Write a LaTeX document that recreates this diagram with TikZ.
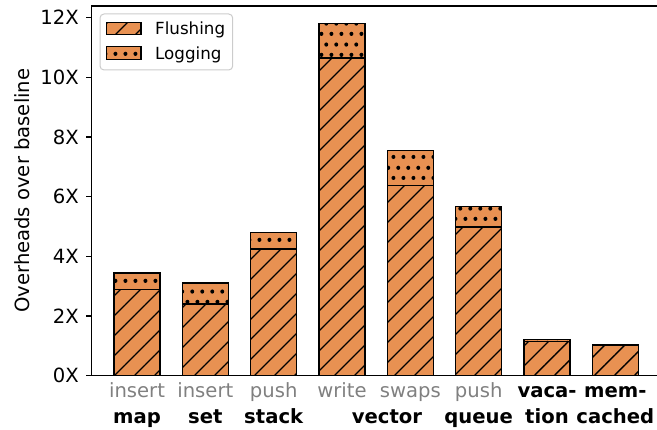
\documentclass[tikz,border=0pt]{standalone}
\usepackage{fontspec}
\setmainfont{DejaVu Sans}
\usetikzlibrary{patterns,patterns.meta}

% staggered dot hatch for the logging segments
\pgfdeclarepatternformonly{logdots}{\pgfqpoint{0pt}{0pt}}{\pgfqpoint{10.3pt}{20.6pt}}{\pgfqpoint{10.3pt}{20.6pt}}{%
  \pgfpathcircle{\pgfqpoint{2.575pt}{5.15pt}}{2.1pt}%
  \pgfpathcircle{\pgfqpoint{7.725pt}{15.45pt}}{2.1pt}%
  \pgfusepath{fill}%
}

\definecolor{barorange}{RGB}{232,145,82}
\definecolor{legendedge}{RGB}{204,204,204}

\begin{document}
\begin{tikzpicture}[x=1pt,y=1pt,
  flushbar/.style={draw=black, line width=1.4pt, preaction={fill=barorange},
    pattern={Lines[angle=45,distance=14.14pt,line width=1.3pt]}, pattern color=black},
  logbar/.style={draw=black, line width=1.4pt, preaction={fill=barorange},
    pattern=logdots, pattern color=black},
  spine/.style={line width=1.3pt, black},
  ticklab/.style={font=\fontsize{19.6}{23.5}\selectfont, inner sep=0pt, anchor=east},
  oplab/.style={font=\fontsize{19.6}{23.5}\selectfont, inner sep=0pt, anchor=base, text=gray},
  benchlab/.style={font=\fontsize{19.6}{23.5}\selectfont\bfseries, inner sep=0pt, anchor=base},
  leglab/.style={font=\fontsize{16.7}{20}\selectfont, inner sep=0pt, anchor=base west},
]
\useasboundingbox (0,0) rectangle (657,430);

% bars: centre / flushing / total (y = 54.3 + 29.84 * value)
\foreach \cx/\f in {137/2.88, 205.3/2.40, 273.7/4.25, 342.0/10.65,
                    410.3/6.37, 478.7/4.98, 547.0/1.14, 615.3/1.03}
  \path[flushbar] (\cx-23,54.3) rectangle ({\cx+23},{54.3+29.84*\f});
\foreach \cx/\f/\t in {137/2.88/3.44, 205.3/2.40/3.10, 273.7/4.25/4.79,
                       342.0/10.65/11.81, 410.3/6.37/7.54, 478.7/4.98/5.67,
                       547.0/1.14/1.22}
  \path[logbar] ({\cx-23},{54.3+29.84*\f}) rectangle ({\cx+23},{54.3+29.84*\t});

% axes frame
\coordinate (origin) at (91.5,54.3);
\coordinate (ytop) at (91.5,424);
\coordinate (xend) at (657,54.3);
\coordinate (tend) at (657,424);
\draw[spine] (xend) -- (origin) -- (ytop) -- (tend);

% y ticks and labels
\foreach \v/\lab [count=\i] in {0/0X,2/2X,4/4X,6/6X,8/8X,10/10X,12/12X} {
  \coordinate (tk\i) at (91.5,{54.3+29.84*\v});
  \draw[spine] (tk\i) -- ++(-6,0);
  \node[ticklab] (tl\i) at (79,{54.3+29.84*\v}) {\lab};
}

% y axis title
\node[font=\fontsize{19.6}{23.5}\selectfont, inner sep=0pt, rotate=90, anchor=base]
  (ytitle) at (29.3,239.3) {Overheads over baseline};

% category labels
\node[oplab] (op1) at (137,32.7) {insert};
\node[oplab] (op2) at (205.3,32.7) {insert};
\node[oplab] (op3) at (273.7,32.7) {push};
\node[oplab] (op4) at (342.0,32.7) {write};
\node[oplab] (op5) at (410.3,32.7) {swaps};
\node[oplab] (op6) at (478.7,32.7) {push};
\node[benchlab] (op7) at (547.0,32.7) {vaca-};
\node[benchlab] (op8) at (615.3,32.7) {mem-};
\node[benchlab] (bm1) at (137,6) {map};
\node[benchlab] (bm2) at (205.3,6) {set};
\node[benchlab] (bm3) at (273.7,6) {stack};
\node[benchlab] (bm4) at (387,6) {vector};
\node[benchlab] (bm5) at (478.7,6) {queue};
\node[benchlab] (bm6) at (547.0,6) {tion};
\node[benchlab] (bm7) at (615.3,6) {cached};

% legend
\draw[legendedge, fill=white, line width=1pt, rounded corners=4pt] (100,360) rectangle (232.7,416);
\path[flushbar] (106.7,395.7) rectangle (141,407.7);
\path[logbar] (106.7,370.7) rectangle (141,383.3);
\node[leglab] (lg1) at (155,395.7) {Flushing};
\node[leglab] (lg2) at (155,370.7) {Logging};
\end{tikzpicture}
\end{document}
